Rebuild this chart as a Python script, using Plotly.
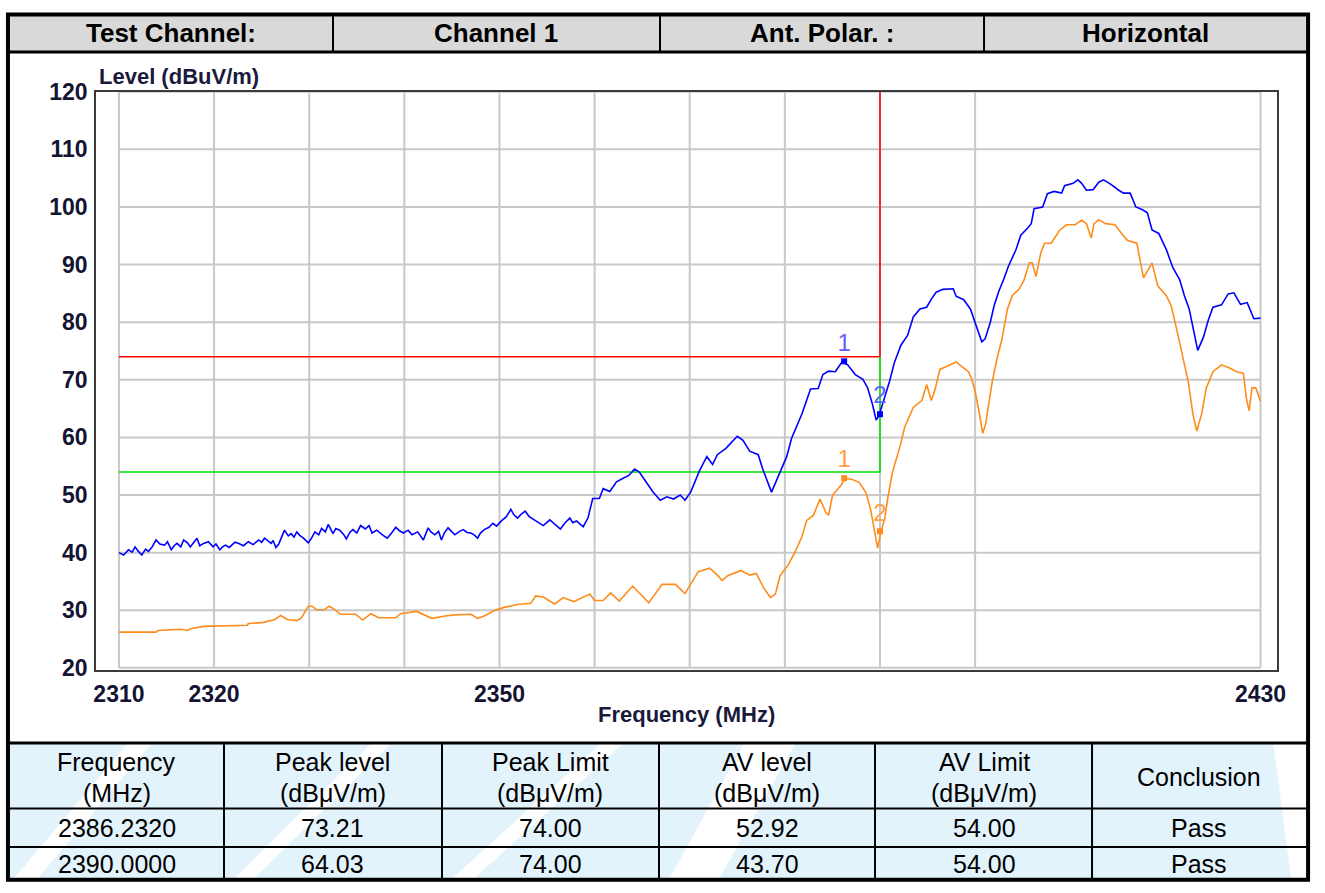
import plotly.graph_objects as go

W, H = 1325, 893

# ---------------- data ----------------
freq_peak = [2310.0, 2310.5, 2311.0, 2311.4, 2311.7, 2312.0, 2312.4, 2312.8, 2313.1, 2313.5,
             2313.9, 2314.3, 2314.8, 2315.1, 2315.5, 2315.8, 2316.1, 2316.5, 2316.8, 2317.2,
             2317.5, 2317.8, 2318.2, 2318.5, 2318.9, 2319.4, 2319.9, 2320.2, 2320.6, 2320.9,
             2321.2, 2321.6, 2321.9, 2322.2, 2322.6, 2323.1, 2323.6, 2324.1, 2324.7, 2325.0,
             2325.3, 2325.7, 2326.0, 2326.2, 2326.5, 2326.8, 2327.0, 2327.4, 2327.8, 2328.1,
             2328.4, 2328.7, 2329.0, 2329.4, 2329.9, 2330.2, 2330.6, 2331.0, 2331.3, 2331.7,
             2332.0, 2332.5, 2332.8, 2333.2, 2333.6, 2333.9, 2334.3, 2334.6, 2335.0, 2335.4,
             2335.9, 2336.3, 2336.6, 2337.1, 2337.7, 2338.2, 2338.7, 2339.1, 2339.5, 2339.9,
             2340.4, 2340.8, 2341.4, 2342.0, 2342.5, 2342.8, 2343.2, 2343.6, 2343.9, 2344.2,
             2344.6, 2345.0, 2345.3, 2345.8, 2346.2, 2346.6, 2347.0, 2347.4, 2347.7, 2348.0,
             2348.4, 2348.9, 2349.3, 2349.7, 2350.2, 2350.7, 2351.2, 2351.5, 2351.9, 2352.3,
             2352.7, 2353.1, 2353.6, 2354.1, 2354.6, 2355.0, 2355.3, 2355.9, 2356.4, 2356.9,
             2357.4, 2357.7, 2358.1, 2358.5, 2358.8,
             2359.3, 2359.8, 2360.5, 2360.9, 2361.6, 2362.3, 2363.0, 2363.6, 2364.2, 2364.7,
             2365.4, 2366.1, 2366.9, 2367.6, 2368.3, 2369.0, 2369.5, 2370.1, 2371.0, 2371.8,
             2372.4, 2372.9, 2373.8, 2374.5, 2375.0, 2375.6, 2376.3, 2377.2, 2377.7, 2378.6,
             2379.3, 2380.2, 2380.7, 2381.8, 2382.7, 2383.5, 2384.0, 2384.6, 2385.3, 2386.0,
             2386.6, 2387.4, 2388.2, 2388.7, 2389.2, 2389.6, 2389.9, 2390.3, 2391.0, 2391.5,
             2392.2, 2392.9, 2393.5, 2394.2, 2394.9, 2395.4, 2395.9, 2396.6, 2397.7, 2398.0,
             2398.8, 2399.5, 2400.0, 2400.4, 2400.7, 2401.05, 2401.6, 2402.0, 2402.5, 2403.0,
             2403.5, 2404.3, 2404.8, 2405.5, 2405.9, 2406.2, 2407.1, 2407.6, 2408.3, 2409.1,
             2409.4, 2410.3, 2410.8, 2411.2, 2411.7, 2412.4, 2413.0, 2413.5, 2414.2, 2415.1,
             2415.6, 2416.3, 2416.9, 2417.6, 2418.1, 2418.6, 2419.3, 2420.1, 2420.8, 2421.5,
             2422.0, 2422.5, 2423.1, 2423.4, 2424.0, 2424.5, 2425.0, 2425.9, 2426.6, 2427.2,
             2427.9, 2428.6, 2429.3, 2430.0]
level_peak = [40.0, 39.6, 40.5, 40.1, 41.0, 40.3, 39.6, 40.6, 40.2, 41.0,
              42.2, 41.5, 41.3, 41.9, 40.5, 41.2, 41.6, 41.0, 42.2, 41.7,
              41.0, 41.6, 42.5, 41.2, 41.6, 41.9, 41.0, 41.5, 40.5, 41.0,
              41.3, 40.9, 41.3, 41.8, 41.6, 41.2, 41.9, 41.4, 42.2, 41.8,
              42.5, 42.0, 41.6, 42.1, 40.9, 41.5, 42.2, 43.9, 42.9, 43.3,
              42.7, 43.6, 43.0, 42.5, 41.7, 42.4, 43.6, 43.1, 44.2, 43.6,
              44.9, 43.3, 44.2, 43.9, 43.2, 42.4, 43.6, 44.0, 43.4, 44.7,
              44.1, 44.7, 43.4, 43.9, 43.1, 42.5, 43.5, 44.4, 43.8, 43.4,
              43.9, 43.1, 43.6, 42.2, 44.3, 43.6, 43.1, 43.7, 42.2, 43.4,
              44.3, 43.5, 43.1, 43.7, 44.0, 43.5, 43.4, 43.0, 42.5, 43.4,
              44.0, 44.4, 45.1, 44.6, 45.5, 46.2, 47.5, 46.6, 46.0, 46.7,
              47.2, 46.3, 45.7, 45.2, 44.7, 45.3, 45.7, 44.8, 44.1, 45.2,
              46.0, 45.2, 45.5, 44.9, 44.5,
              46.0, 49.4, 49.4, 51.1, 50.6, 52.3, 52.9, 53.4, 54.5, 54.0,
              52.3, 50.6, 49.1, 49.7, 49.3, 50.0, 49.1, 50.5, 54.1, 56.7,
              55.3, 57.0, 58.1, 59.3, 60.2, 59.5, 57.6, 57.0, 54.4, 50.5,
              53.3, 56.7, 59.8, 64.1, 68.4, 68.5, 70.9, 71.5, 71.4, 73.1,
              72.6, 70.9, 70.1, 68.6, 65.8, 63.0, 63.8, 65.8, 69.7, 72.9,
              76.0, 77.7, 80.9, 82.3, 82.6, 84.0, 85.2, 85.7, 85.8, 84.5,
              83.9, 82.3, 80.0, 78.0, 76.6, 77.1, 80.0, 82.9, 85.4, 87.4,
              89.7, 92.6, 95.1, 96.3, 97.1, 99.7, 100.0, 102.3, 102.7, 102.4,
              103.7, 104.1, 104.7, 104.1, 102.9, 103.0, 104.3, 104.7, 104.0, 102.9,
              102.4, 102.4, 100.0, 99.5, 99.0, 96.0, 95.4, 92.6, 89.4, 87.4,
              84.6, 82.3, 77.1, 75.1, 77.4, 80.3, 82.6, 83.0, 84.9, 85.1,
              83.1, 83.4, 80.6, 80.7]

freq_avg = [2310.0, 2313.9, 2314.1, 2316.5, 2317.2, 2317.5, 2318.9, 2323.5, 2323.6, 2325.2,
            2326.4, 2327.0, 2327.7, 2328.7, 2329.2, 2329.9, 2330.3, 2330.8, 2331.6, 2332.1,
            2332.7, 2333.3, 2334.9, 2335.6, 2336.5, 2337.3, 2339.1, 2339.6, 2341.3, 2342.9,
            2344.3, 2345.3, 2347.0, 2347.7, 2348.4, 2349.4, 2350.5, 2351.9, 2353.3, 2353.8,
            2354.6, 2355.8, 2356.7, 2357.8, 2359.5, 2360.0, 2360.9, 2361.7, 2362.6, 2364.0,
            2365.7, 2367.1, 2368.5, 2369.5, 2370.9, 2372.1, 2372.9, 2373.4, 2374.0, 2375.4,
            2376.3, 2377.0, 2377.8, 2378.5, 2379.0, 2379.5, 2380.4, 2381.1, 2381.8, 2382.3,
            2383.0, 2383.7, 2384.3, 2384.6, 2385.0, 2386.0, 2386.3, 2387.1, 2387.8, 2388.5,
            2389.0, 2389.4, 2389.75, 2390.1, 2390.5, 2390.8, 2391.3, 2392.1, 2392.6, 2393.5,
            2394.4, 2394.9, 2395.4, 2395.8, 2396.3, 2397.0, 2398.0, 2398.6, 2399.3, 2399.6,
            2400.0, 2400.4, 2400.8, 2401.1, 2401.4, 2401.8, 2402.3, 2402.8, 2403.4, 2403.9,
            2404.6, 2405.1, 2405.7, 2406.0, 2406.4, 2406.9, 2407.3, 2408.0, 2408.9, 2409.6,
            2410.5, 2411.2, 2411.7, 2412.2, 2412.5, 2413.0, 2413.7, 2414.7, 2415.4, 2416.0,
            2417.0, 2417.4, 2417.7, 2418.6, 2419.2, 2420.1, 2420.6, 2421.1, 2421.8, 2422.4,
            2422.9, 2423.3, 2423.8, 2424.3, 2425.0, 2425.9, 2426.8, 2427.5, 2428.2, 2428.5,
            2428.8, 2429.1, 2429.5, 2430.0]
level_avg = [26.2, 26.2, 26.5, 26.7, 26.5, 26.8, 27.2, 27.4, 27.7, 27.9,
             28.4, 29.1, 28.4, 28.2, 28.7, 30.7, 30.7, 30.1, 30.1, 30.7,
             30.1, 29.3, 29.3, 28.3, 29.4, 28.7, 28.7, 29.4, 29.8, 28.6,
             29.0, 29.2, 29.3, 28.6, 29.0, 29.9, 30.5, 31.0, 31.2, 32.5,
             32.3, 31.1, 32.2, 31.5, 32.8, 31.7, 31.7, 33.0, 31.6, 34.2,
             31.3, 34.5, 34.5, 32.9, 36.7, 37.3, 36.1, 35.2, 36.0, 36.9,
             36.1, 36.4, 33.8, 32.2, 32.8, 36.0, 38.0, 40.2, 42.8, 45.6,
             46.5, 49.3, 47.0, 46.5, 49.9, 51.9, 52.9, 52.7, 52.2, 50.5,
             47.6, 43.6, 40.8, 43.6, 45.9, 49.3, 53.9, 58.4, 61.8, 65.2,
             66.4, 69.2, 66.4, 68.4, 71.8, 72.3, 73.1, 72.3, 71.4, 70.3,
             68.0, 64.6, 60.7, 62.3, 65.7, 69.7, 73.7, 76.9, 82.3, 84.6,
             85.7, 87.1, 90.3, 90.3, 87.9, 92.0, 93.7, 93.7, 96.0, 96.9,
             96.9, 97.7, 97.1, 94.6, 97.1, 97.8, 97.1, 96.9, 95.4, 94.2,
             93.7, 90.3, 87.7, 90.3, 86.3, 84.6, 82.9, 79.4, 74.3, 69.7,
             64.0, 61.1, 64.0, 68.6, 71.4, 72.6, 72.0, 71.4, 71.1, 66.9,
             64.6, 68.6, 68.6, 66.3]

limit_freq = [2310, 2390, 2390]
peak_limit_level = [74, 74, 120]
av_limit_level = [54, 54, 74]

marker_freq = [2386.232, 2390.0]
marker_peak = [73.21, 64.03]
marker_avg = [52.92, 43.70]
marker_labels = ["1", "2"]

grid_x = [2310, 2320, 2330, 2340, 2350, 2360, 2370, 2380, 2390, 2400, 2430]
grid_y = [20, 30, 40, 50, 60, 70, 80, 90, 100, 110, 120]
x_tick_vals = [2310, 2320, 2350, 2430]
y_tick_vals = [20, 30, 40, 50, 60, 70, 80, 90, 100, 110, 120]

header_cells = ["Test Channel:", "Channel 1", "Ant. Polar. :", "Horizontal"]
table_head_1 = ["Frequency", "Peak level", "Peak Limit", "AV level", "AV Limit", "Conclusion"]
table_head_2 = ["(MHz)", "(dBμV/m)", "(dBμV/m)", "(dBμV/m)", "(dBμV/m)", ""]
table_freq = ["2386.2320", "2390.0000"]
table_peak = ["73.21", "64.03"]
table_peak_limit = ["74.00", "74.00"]
table_av = ["52.92", "43.70"]
table_av_limit = ["54.00", "54.00"]
table_conclusion = ["Pass", "Pass"]

# ---------------- helpers (screen pixel -> paper) ----------------
# the page is photographed with a small vertical offset/scale; compensate
Y_OFF, Y_SCALE = 8.5, 0.983


def px(x):
    return x / W


def py(y):
    return 1 - (y - Y_OFF) / (Y_SCALE * H)


FONT = "Liberation Sans, Arial, sans-serif"
TOP, HEAD_BOT, TAB_TOP, ROW1, ROW2, BOT = 10, 48, 746, 812, 851, 884

fig = go.Figure()

fig.add_trace(go.Scatter(x=limit_freq, y=peak_limit_level, mode="lines",
                         line=dict(color="#ff0000", width=1.6), hoverinfo="skip"))
fig.add_trace(go.Scatter(x=limit_freq, y=av_limit_level, mode="lines",
                         line=dict(color="#00e000", width=1.6), hoverinfo="skip"))
fig.add_trace(go.Scatter(x=freq_avg, y=level_avg, mode="lines",
                         line=dict(color="#ff8c1a", width=1.6)))
fig.add_trace(go.Scatter(x=freq_peak, y=level_peak, mode="lines",
                         line=dict(color="#0000ff", width=1.6)))
fig.add_trace(go.Scatter(x=marker_freq, y=marker_peak, mode="markers+text", text=marker_labels,
                         textposition="top center",
                         textfont=dict(family=FONT, size=24, color="#6060ff"),
                         marker=dict(symbol="square", size=6, color="#0000ff")))
fig.add_trace(go.Scatter(x=marker_freq, y=marker_avg, mode="markers+text", text=marker_labels,
                         textposition="top center",
                         textfont=dict(family=FONT, size=24, color="#ffa040"),
                         marker=dict(symbol="square", size=6, color="#ff8c1a")))

shapes = []
# grid
for gx in grid_x:
    shapes.append(dict(type="line", xref="x", yref="y", x0=gx, x1=gx, y0=grid_y[0], y1=grid_y[-1],
                       line=dict(color="#c8c8c8", width=2), layer="below"))
for gy in grid_y:
    shapes.append(dict(type="line", xref="x", yref="y", x0=grid_x[0], x1=grid_x[-1], y0=gy, y1=gy,
                       line=dict(color="#c8c8c8", width=2), layer="below"))

# header band
shapes.append(dict(type="rect", xref="paper", yref="paper", x0=px(7), x1=px(1315), y0=py(HEAD_BOT), y1=py(TOP),
                   fillcolor="#d9d9d9", line=dict(width=0), layer="below"))
for sx in [333, 663, 990]:
    shapes.append(dict(type="line", xref="paper", yref="paper", x0=px(sx), x1=px(sx),
                       y0=py(HEAD_BOT), y1=py(TOP), line=dict(color="#000000", width=2)))
shapes.append(dict(type="line", xref="paper", yref="paper", x0=px(5), x1=px(1317),
                   y0=py(HEAD_BOT), y1=py(HEAD_BOT), line=dict(color="#000000", width=3)))

# bottom table background + watermark swooshes
shapes.append(dict(type="rect", xref="paper", yref="paper", x0=px(7), x1=px(1315), y0=py(BOT), y1=py(TAB_TOP),
                   fillcolor="#e3f3fc", line=dict(width=0), layer="below"))
bands = [
    [(10, BOT), (34, BOT), (150, TAB_TOP), (126, TAB_TOP)],
    [(232, BOT), (252, BOT), (392, TAB_TOP), (372, TAB_TOP)],
    [(452, BOT), (474, BOT), (626, TAB_TOP), (604, TAB_TOP)],
    [(672, BOT), (722, BOT), (800, TAB_TOP), (748, TAB_TOP)],
    [(1300, BOT), (1315, BOT), (1315, TAB_TOP), (1282, TAB_TOP)],
]
for b in bands:
    path = "M " + " L ".join(f"{px(x):.5f},{py(y):.5f}" for x, y in b) + " Z"
    shapes.append(dict(type="path", xref="paper", yref="paper", path=path,
                       fillcolor="#ffffff", line=dict(width=0), layer="below"))

shapes.append(dict(type="line", xref="paper", yref="paper", x0=px(5), x1=px(1317),
                   y0=py(TAB_TOP), y1=py(TAB_TOP), line=dict(color="#000000", width=3)))
for ry in [ROW1, ROW2]:
    shapes.append(dict(type="line", xref="paper", yref="paper", x0=px(5), x1=px(1317), y0=py(ry), y1=py(ry),
                       line=dict(color="#000000", width=2)))
for cx in [223, 443, 662, 880, 1099]:
    shapes.append(dict(type="line", xref="paper", yref="paper", x0=px(cx), x1=px(cx),
                       y0=py(BOT), y1=py(TAB_TOP), line=dict(color="#000000", width=2)))

# outer border
shapes.append(dict(type="rect", xref="paper", yref="paper", x0=px(5), x1=px(1317), y0=py(BOT), y1=py(TOP),
                   line=dict(color="#000000", width=4), fillcolor="rgba(0,0,0,0)"))

annotations = []
header_x = [170, 498, 826, 1153]
for t, hx in zip(header_cells, header_x):
    annotations.append(dict(text=f"<b>{t}</b>", x=px(hx), y=py(29), xref="paper", yref="paper",
                            showarrow=False, xanchor="center", yanchor="middle",
                            font=dict(family=FONT, size=26, color="#000000")))

col_x = [115, 333, 552, 771, 990, 1207]
for i, cxp in enumerate(col_x):
    if table_head_2[i]:
        annotations.append(dict(text=table_head_1[i], x=px(cxp), y=py(765), xref="paper", yref="paper",
                                showarrow=False, xanchor="center", yanchor="middle",
                                font=dict(family=FONT, size=25, color="#000000")))
        annotations.append(dict(text=table_head_2[i], x=px(cxp), y=py(796), xref="paper", yref="paper",
                                showarrow=False, xanchor="center", yanchor="middle",
                                font=dict(family=FONT, size=25, color="#000000")))
    else:
        annotations.append(dict(text=table_head_1[i], x=px(cxp), y=py(780), xref="paper", yref="paper",
                                showarrow=False, xanchor="center", yanchor="middle",
                                font=dict(family=FONT, size=25, color="#000000")))

rows = list(zip(table_freq, table_peak, table_peak_limit, table_av, table_av_limit, table_conclusion))
for r, ry in zip(rows, [832, 868]):
    for val, cxp in zip(r, col_x):
        annotations.append(dict(text=val, x=px(cxp), y=py(ry), xref="paper", yref="paper",
                                showarrow=False, xanchor="center", yanchor="middle",
                                font=dict(family=FONT, size=25, color="#000000")))

annotations.append(dict(text="<b>Level (dBuV/m)</b>", x=px(95), y=py(73), xref="paper", yref="paper",
                        showarrow=False, xanchor="left", yanchor="middle",
                        font=dict(family=FONT, size=22, color="#1a1a3c")))
annotations.append(dict(text="<b>Frequency (MHz)</b>", x=px(690), y=py(717), xref="paper", yref="paper",
                        showarrow=False, xanchor="center", yanchor="middle",
                        font=dict(family=FONT, size=22, color="#1a1a3c")))

fig.update_layout(
    width=W, height=H, autosize=False,
    margin=dict(l=0, r=0, t=0, b=0),
    paper_bgcolor="#ffffff", plot_bgcolor="#ffffff",
    showlegend=False,
    shapes=shapes, annotations=annotations,
    xaxis=dict(domain=[px(94), px(1286)], range=[2307.604, 2431.77],
               showgrid=False, zeroline=False, showline=True, mirror=True,
               linecolor="#3a3a3a", linewidth=2, ticks="",
               tickvals=x_tick_vals, ticktext=[str(v) for v in x_tick_vals],
               tickfont=dict(family=FONT, size=23, color="#141432", weight="bold"),
               ticklabelstandoff=3),
    yaxis=dict(domain=[py(672), py(88)], range=[19.66, 120],
               showgrid=False, zeroline=False, showline=True, mirror=True,
               linecolor="#3a3a3a", linewidth=2, ticks="",
               tickvals=y_tick_vals, ticktext=[str(v) for v in y_tick_vals],
               tickfont=dict(family=FONT, size=23, color="#141432", weight="bold"),
               ticklabelstandoff=2),
)

fig.write_html("out.html", include_plotlyjs=True, full_html=True,
               config={"displayModeBar": False},
               post_script="document.body.style.margin='0px';")
